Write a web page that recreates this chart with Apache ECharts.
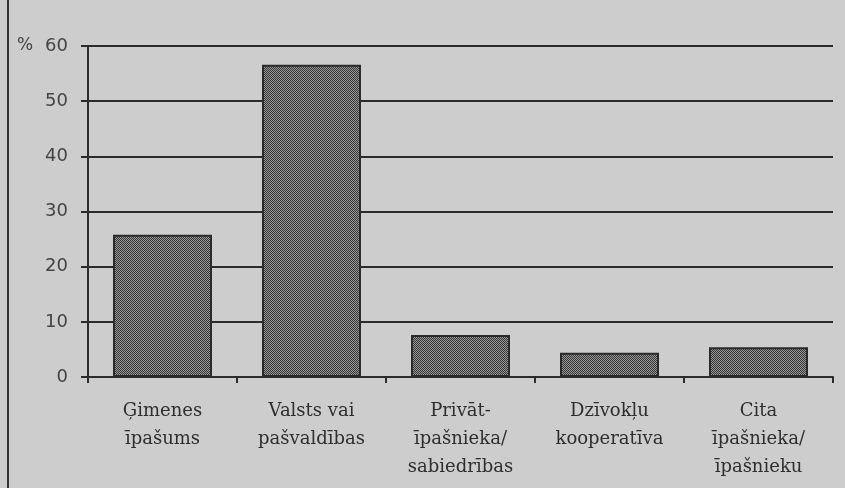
<!DOCTYPE html>
<html>
<head>
<meta charset="utf-8">
<script src="https://cdn.jsdelivr.net/npm/echarts@6/dist/echarts.min.js"></script>
<style>
  html, body { margin: 0; padding: 0; background: #cdcdcd; }
  #chart { width: 845px; height: 488px; }
</style>
</head>
<body>
<div id="chart"></div>
<script>
let categories = [
  'Ģimenes\nīpašums',
  'Valsts vai\npašvaldības',
  'Privāt-\nīpašnieka/\nsabiedrības',
  'Dzīvokļu\nkooperatīva',
  'Cita\nīpašnieka/\nīpašnieku'
]
let values = [25.8, 56.6, 7.6, 4.4, 5.4]
let yTicks = [0, 10, 20, 30, 40, 50, 60]

// little checker tile for the dotted bar fill
function checker() {
  let c = document.createElement('canvas')
  c.width = 2
  c.height = 2
  let ctx = c.getContext('2d')
  ctx.fillStyle = '#989898'
  ctx.fillRect(0, 0, 2, 2)
  ctx.fillStyle = '#363636'
  ctx.fillRect(0, 0, 1, 1)
  ctx.fillRect(1, 1, 1, 1)
  return c
}

var chart = echarts.init(document.getElementById('chart'), null, {renderer: 'canvas'})
let ink = '#2b2b2b'
let option = {
  backgroundColor: '#cdcdcd',
  animation: false,
  grid: {
    left: 88,
    right: 12,
    top: 46,
    bottom: 111
  },
  graphic: [
    {
      type: 'line',
      shape: {x1: 8, y1: 0, x2: 8, y2: 488},
      style: {stroke: '#333', lineWidth: 2}
    },
    {
      type: 'text',
      left: 17,
      top: 37,
      style: {text: '%', fill: '#444', font: '17px "DejaVu Sans"'}
    }
  ],
  xAxis: {
    type: 'category',
    data: categories,
    axisLine: {lineStyle: {color: ink, width: 2}},
    axisTick: {show: true, length: 6, lineStyle: {color: ink, width: 2}},
    axisLabel: {
      color: '#2e2e2e',
      fontFamily: 'DejaVu Serif',
      fontSize: 18,
      lineHeight: 28,
      margin: 20
    }
  },
  yAxis: {
    type: 'value',
    min: 0,
    max: yTicks[yTicks.length - 1],
    interval: 10,
    axisLine: {show: true, lineStyle: {color: ink, width: 2}},
    axisTick: {show: true, length: 7, lineStyle: {color: ink, width: 2}},
    splitLine: {show: true, lineStyle: {color: ink, width: 2}},
    axisLabel: {
      color: '#444',
      fontFamily: 'DejaVu Sans',
      fontSize: 18,
      margin: 20,
      formatter: v => yTicks.includes(v) ? String(v) : ''
    }
  },
  series: [
    {
      type: 'bar',
      data: values,
      barWidth: 99,
      itemStyle: {
        color: {image: checker(), repeat: 'repeat'},
        borderColor: '#2a2a2a',
        borderWidth: 2
      }
    }
  ]
}
chart.setOption(option)
</script>
</body>
</html>
